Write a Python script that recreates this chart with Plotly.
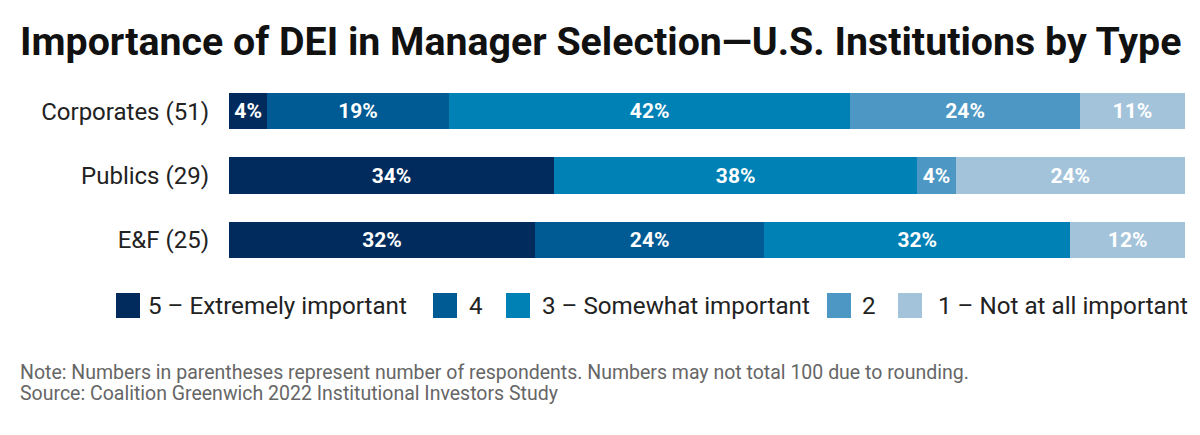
import plotly.graph_objects as go

categories = ["Corporates (51)", "Publics (29)", "E&F (25)"]
series_names = ["5 – Extremely important", "4", "3 – Somewhat important", "2", "1 – Not at all important"]
v5 = [4, 34, 32]
v4 = [19, None, 24]
v3 = [42, 38, 32]
v2 = [24, 4, None]
v1 = [11, 24, 12]
series_values = [v5, v4, v3, v2, v1]
colors = ["#012B5D", "#005A93", "#0081B5", "#4C97C3", "#A3C3DB"]

FONT = "Roboto"
OFF = 8  # page body margin
W, H = 1200 - OFF, 435 - OFF
L, R, T, B = 229 - OFF, 15, 79 - OFF, 163
PW, PH = W - L - R, H - T - B


def px(xp):
    return (xp - OFF - L) / PW


def py(yp):
    return (H - B - (yp - OFF)) / PH


fig = go.Figure()
for name, vals, col in zip(series_names, series_values, colors):
    fig.add_trace(go.Bar(
        y=categories, x=vals, name=name, orientation="h",
        marker=dict(color=col, line=dict(width=0)),
        text=[f"{v}%" if v is not None else "" for v in vals],
        textposition="inside", insidetextanchor="middle",
        constraintext="none",
        textfont=dict(color="white", size=21, family=FONT, weight="bold"),
        hoverinfo="skip", showlegend=False,
    ))

fig.update_layout(
    barmode="stack",
    width=W, height=H,
    margin=dict(l=L, r=R, t=T, b=B, autoexpand=False),
    paper_bgcolor="white", plot_bgcolor="white",
    bargap=0.44,
    showlegend=False,
    title=dict(text="<b>Importance of DEI in Manager Selection—U.S. Institutions by Type</b>",
               x=(20 - OFF)/W, xanchor="left", y=1-(41 - OFF)/H, yanchor="middle",
               font=dict(family=FONT, size=39.3, color="#111111")),
    xaxis=dict(range=[0, 100], visible=False, fixedrange=True),
    yaxis=dict(categoryorder="array", categoryarray=categories[::-1],
               tickfont=dict(family=FONT, size=24, color="#222222"),
               ticks="", showgrid=False, zeroline=False, showline=False,
               automargin=False, ticklabelstandoff=19, fixedrange=True),
)

# legend drawn as swatches + labels
swatch_left = [116, 433, 506, 827, 898]
text_left = [146, 467, 540, 860, 936]
sw_w, sw_top, sw_bot = 24, 293, 318
for i, (name, col) in enumerate(zip(series_names, colors)):
    fig.add_shape(type="rect", xref="paper", yref="paper",
                  x0=px(swatch_left[i]), x1=px(swatch_left[i] + sw_w),
                  y0=py(sw_bot), y1=py(sw_top),
                  fillcolor=col, line=dict(width=0))
    fig.add_annotation(text=name, xref="paper", yref="paper",
                       x=px(text_left[i]), y=py(305.5), xanchor="left", yanchor="middle",
                       showarrow=False, font=dict(family=FONT, size=24.2, color="#222222"))

notes = ["Note: Numbers in parentheses represent number of respondents. Numbers may not total 100 due to rounding.",
         "Source: Coalition Greenwich 2022 Institutional Investors Study"]
for line, yy in zip(notes, [372.5, 393.5]):
    fig.add_annotation(text=line, xref="paper", yref="paper",
                       x=px(18), y=py(yy), xanchor="left", yanchor="middle",
                       height=21, valign="middle",
                       showarrow=False, font=dict(family=FONT, size=19.5, color="#666666"))

fig.write_html("out.html")
